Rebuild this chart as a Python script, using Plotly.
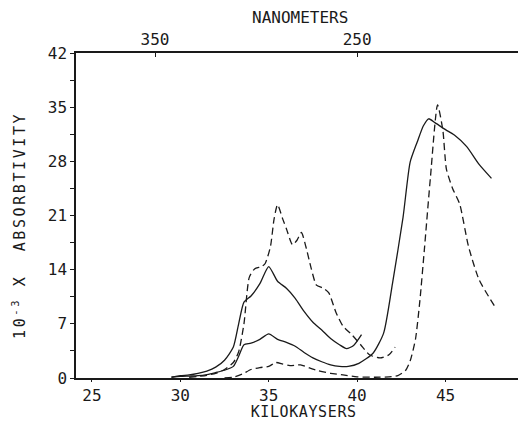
import plotly.graph_objects as go

# ---- data (kilokaysers vs 10^-3 x absorbtivity) ----
a_x = [29.5, 30.0, 30.5, 31.0, 31.5, 32.0, 32.5, 33.0, 33.3, 33.6, 34.0, 34.5, 35.0, 35.5, 36.0, 36.5, 37.0, 37.5, 38.0, 38.5, 39.0, 39.4, 39.8, 40.25]
a_y = [0.1, 0.3, 0.4, 0.6, 0.9, 1.4, 2.3, 4.0, 7.0, 9.8, 10.6, 12.2, 14.4, 12.5, 11.6, 10.3, 8.6, 7.2, 6.2, 5.1, 4.3, 3.8, 4.2, 5.6]

b_x = [29.5, 30.0, 30.5, 31.0, 31.5, 32.0, 32.5, 33.0, 33.3, 33.6, 34.0, 34.5, 35.0, 35.5, 36.0, 36.5, 37.0, 37.5, 38.0, 38.5, 39.0, 39.5, 40.1, 40.9, 41.5, 42.0, 42.6, 43.0, 43.4, 43.75, 44.05, 44.4, 45.0, 45.5, 46.2, 46.9, 47.6]
b_y = [0.1, 0.2, 0.25, 0.3, 0.45, 0.7, 1.0, 1.5, 2.8, 4.3, 4.5, 5.0, 5.7, 5.0, 4.6, 4.1, 3.3, 2.6, 2.1, 1.7, 1.5, 1.5, 1.9, 3.2, 5.8, 12.2, 20.8, 27.9, 30.5, 32.6, 33.5, 33.0, 32.1, 31.4, 29.9, 27.6, 25.8]

c_x = [30.5, 31.0, 31.5, 32.0, 32.5, 33.0, 33.3, 33.6, 33.9, 34.2, 34.6, 34.8, 35.1, 35.3, 35.5, 35.8, 36.0, 36.35, 36.6, 36.85, 37.1, 37.4, 37.7, 38.1, 38.4, 38.8, 39.2, 39.7, 40.2, 40.7, 41.3, 41.8, 42.15]
c_y = [0.1, 0.2, 0.35, 0.6, 1.1, 2.0, 3.4, 7.0, 13.0, 14.1, 14.4, 14.8, 17.0, 20.5, 22.4, 20.5, 19.3, 17.2, 17.8, 18.8, 17.0, 14.2, 12.0, 11.6, 11.0, 8.5, 6.7, 5.6, 4.3, 3.0, 2.6, 3.0, 4.0]

d_x = [32.5, 33.0, 33.5, 34.0, 34.5, 35.0, 35.4, 35.8, 36.2, 36.8, 37.3, 37.8, 38.5, 39.2, 40.0, 41.0, 41.8, 42.3, 42.75, 43.0, 43.3, 43.55, 43.8, 44.15, 44.55, 44.85, 45.05, 45.4, 45.8, 46.3, 46.9, 47.8]
d_y = [0.0, 0.1, 0.5, 1.1, 1.35, 1.5, 2.0, 1.8, 1.6, 1.7, 1.3, 0.95, 0.6, 0.4, 0.15, 0.1, 0.15, 0.3, 1.0, 2.2, 5.0, 10.0, 16.5, 26.0, 35.3, 32.0, 27.0, 24.5, 22.5, 17.0, 12.7, 9.2]

x_ticks = [25, 30, 35, 40, 45]
y_ticks = [0, 7, 14, 21, 28, 35, 42]
nm_ticks = [350, 250]

X_RANGE = [24.1, 49.1]
Y_RANGE = [0, 42]

INK = "#1a1a1a"
FONT = "DejaVu Sans Mono"

fig = go.Figure()
for xs, ys, dash in [(a_x, a_y, "solid"), (b_x, b_y, "solid"),
                     (c_x, c_y, "7px,4px"), (d_x, d_y, "7px,4px")]:
    fig.add_trace(go.Scatter(x=xs, y=ys, mode="lines",
                             line=dict(color=INK, width=1.3, dash=dash, shape="spline", smoothing=0.6),
                             showlegend=False, hoverinfo="skip"))

# invisible trace for the top (nanometer) axis
fig.add_trace(go.Scatter(x=[1e4 / n for n in nm_ticks], y=[0, 0], xaxis="x2", mode="markers",
                         marker=dict(opacity=0), showlegend=False, hoverinfo="skip"))

axis_common = dict(tickcolor=INK, showline=True, linecolor=INK,
                   linewidth=1.5, showgrid=False, zeroline=False, automargin=False,
                   tickfont=dict(size=16, family=FONT))

fig.update_layout(
    width=518, height=421,
    margin=dict(l=76, r=0, t=53, b=43),
    paper_bgcolor="white", plot_bgcolor="white",
    font=dict(family=FONT, color=INK, size=15),
    xaxis=dict(range=X_RANGE, tickvals=x_ticks, ticks="outside", ticklen=2, **axis_common),
    xaxis2=dict(range=X_RANGE, overlaying="x", side="top", anchor="y",
                tickvals=[1e4 / n for n in nm_ticks], ticktext=[str(n) for n in nm_ticks],
                ticks="inside", ticklen=4, **axis_common),
    yaxis=dict(range=Y_RANGE, tickvals=y_ticks, ticks="outside", ticklen=4,
               minor=dict(tickvals=[3.5 + 7 * i for i in range(6)], ticks="outside", ticklen=4, tickcolor=INK),
               **axis_common),
    annotations=[
        dict(text="NANOMETERS", x=300, y=18, xref="paper", yref="paper", showarrow=False,
             font=dict(size=16, family=FONT), xanchor="center", yanchor="middle"),
        dict(text="KILOKAYSERS", x=303, y=411.5, xref="paper", yref="paper", showarrow=False,
             font=dict(size=15, family=FONT), xanchor="center", yanchor="middle"),
        dict(text="10<sup>-3</sup> X  ABSORBTIVITY", x=19, y=226, xref="paper", yref="paper",
             showarrow=False, textangle=-90, font=dict(size=15, family=FONT),
             xanchor="center", yanchor="middle"),
    ],
)

# convert pixel positions of the annotations into paper coordinates
pw, ph = 518 - 76 - 0, 421 - 53 - 43
for ann in fig.layout.annotations:
    ann.x = (ann.x - 76) / pw
    ann.y = 1 - (ann.y - 53) / ph

post = """
document.body.style.margin='0px';
document.body.style.overflow='hidden';
var t = document.querySelector('g.annotation[data-index="2"] text.annotation-text');
if (t) { t.style.letterSpacing = '2.6px'; }
var k = document.querySelector('g.annotation[data-index="1"] text.annotation-text');
if (k) { k.style.letterSpacing = '0.6px'; }
"""
fig.write_html("out.html", post_script=post, config={"displayModeBar": False})
